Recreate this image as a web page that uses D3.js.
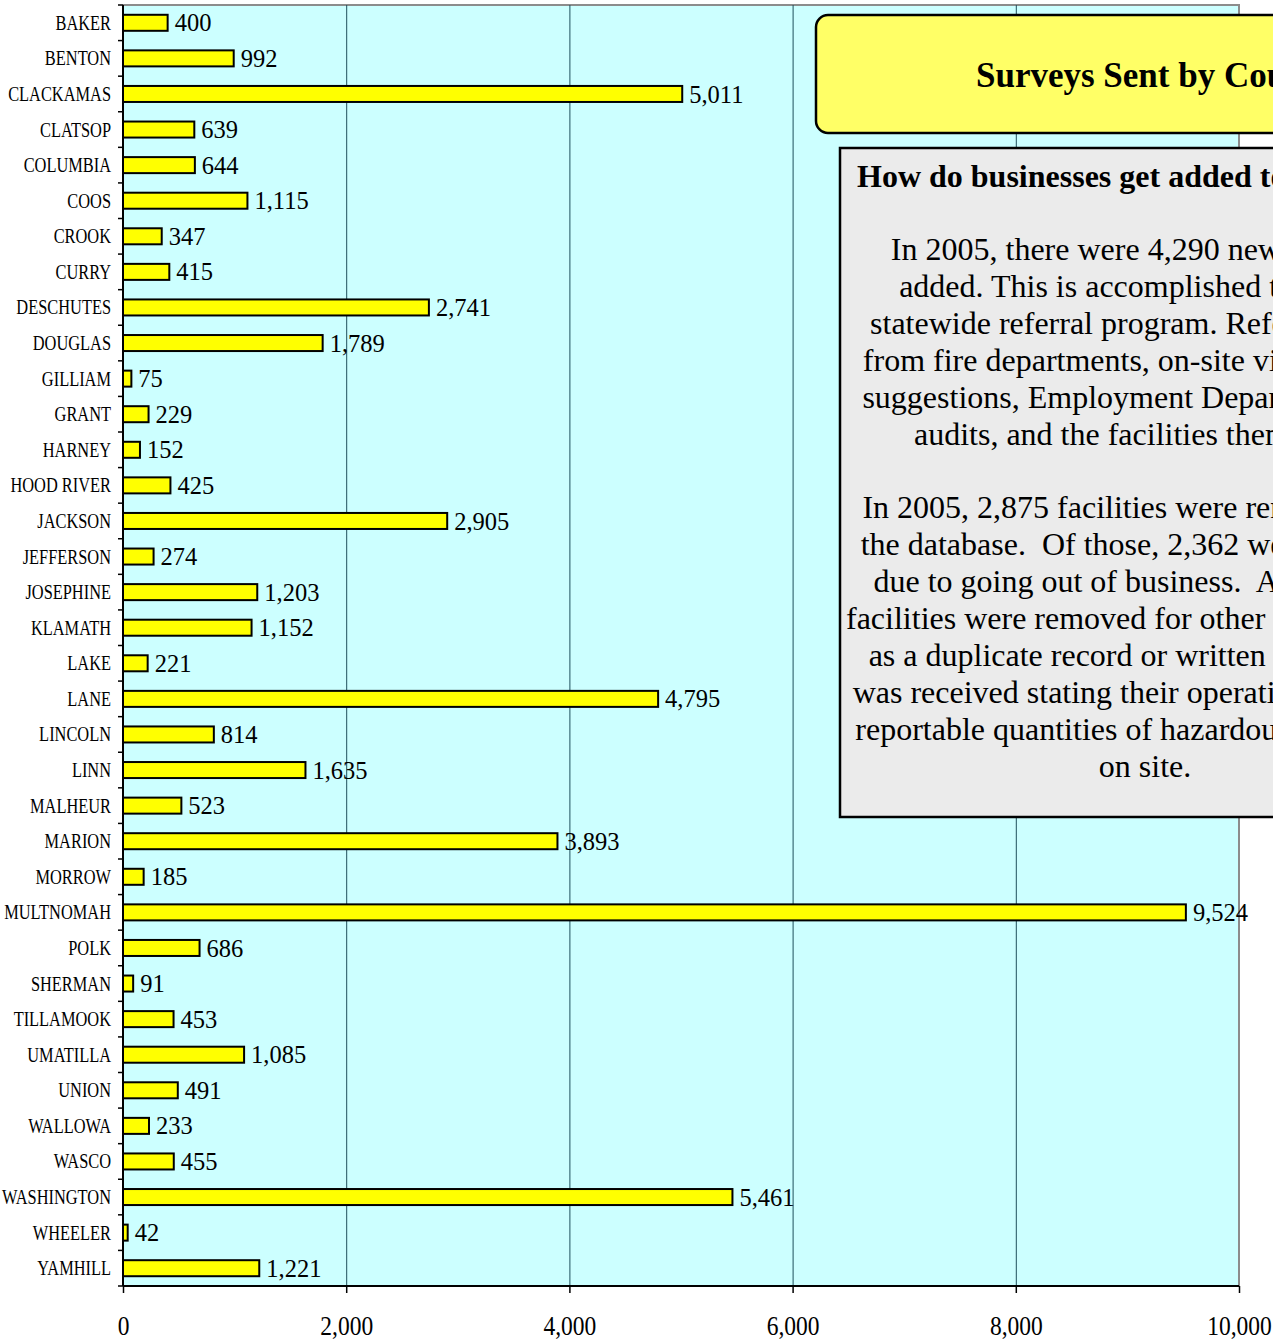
<!DOCTYPE html>
<html>
<head>
<meta charset="utf-8">
<script src="https://cdn.jsdelivr.net/npm/d3@7"></script>
<style>
  body { margin: 0; background: #fff; }
  svg text { font-family: "Liberation Serif", "Times New Roman", serif; fill: #000; }
</style>
</head>
<body>
<div id="chart"></div>
<script>
// Surveys sent by county (horizontal bar chart with side notes)

const counties = ["BAKER", "BENTON", "CLACKAMAS", "CLATSOP", "COLUMBIA", "COOS", "CROOK", "CURRY",
    "DESCHUTES", "DOUGLAS", "GILLIAM", "GRANT", "HARNEY", "HOOD RIVER", "JACKSON", "JEFFERSON",
    "JOSEPHINE", "KLAMATH", "LAKE", "LANE", "LINCOLN", "LINN", "MALHEUR", "MARION", "MORROW",
    "MULTNOMAH", "POLK", "SHERMAN", "TILLAMOOK", "UMATILLA", "UNION", "WALLOWA", "WASCO",
    "WASHINGTON", "WHEELER", "YAMHILL"];

const surveys = [400, 992, 5011, 639, 644, 1115, 347, 415, 2741, 1789, 75, 229, 152, 425, 2905, 274,
    1203, 1152, 221, 4795, 814, 1635, 523, 3893, 185, 9524, 686, 91, 453, 1085, 491, 233, 455,
    5461, 42, 1221];

const xTicks = [0, 2000, 4000, 6000, 8000, 10000];

const titleText = "Surveys Sent by County";
const noteHeading = "How do businesses get added to the database?";
const noteLines = [
    "In 2005, there were 4,290 new facilities",
    "added. This is accomplished through a",
    "statewide referral program. Referrals come",
    "from fire departments, on-site visits, agency",
    "suggestions, Employment Department wage",
    "audits, and the facilities themselves.",
    "",
    "In 2005, 2,875 facilities were removed from",
    "the database.  Of those, 2,362 were removed",
    "due to going out of business.  Another 513",
    "facilities were removed for other reasons, such",
    "as a duplicate record or written notification",
    "was received stating their operation no longer",
    "reportable quantities of hazardous substances",
    "on site."
];

const W = 1273, H = 1340;
const plot = { left: 123, right: 1239, top: 5, bottom: 1286 };

const svg = d3.select("#chart").append("svg")
    .attr("width", W)
    .attr("height", H);

const data = counties.map((c, i) => ({ county: c, value: surveys[i] }));

// Scales
const x = d3.scaleLinear()
    .domain([0, 10000])
    .range([plot.left, plot.right]);

const y = d3.scaleBand()
    .domain(counties)
    .range([plot.top, plot.bottom])
    .paddingInner(0.55)
    .paddingOuter(0.275);

// Plot background + gray frame on top/right
svg.append("rect")
    .attr("x", plot.left).attr("y", plot.top)
    .attr("width", plot.right - plot.left)
    .attr("height", plot.bottom - plot.top)
    .attr("fill", "#ccffff");

svg.append("path")
    .attr("d", `M${plot.left},${plot.top}H${plot.right}V${plot.bottom}`)
    .attr("fill", "none")
    .attr("stroke", "#8c8c8c")
    .attr("stroke-width", 2);

// Grid lines
svg.append("g")
    .attr("transform", `translate(0,${plot.bottom})`)
    .call(d3.axisBottom(x)
        .tickValues(xTicks.slice(1, -1))
        .tickSize(-(plot.bottom - plot.top))
        .tickFormat(""))
    .call(g => g.select(".domain").remove())
    .call(g => g.selectAll("line").attr("stroke", "#1f4f5c").attr("stroke-width", 1));

// Bars
svg.append("g")
    .selectAll("rect")
    .data(data)
    .join("rect")
    .attr("x", x(0))
    .attr("y", d => y(d.county))
    .attr("width", d => x(d.value) - x(0))
    .attr("height", y.bandwidth())
    .attr("fill", "#ffff00")
    .attr("stroke", "#000")
    .attr("stroke-width", 2);

// Value labels
svg.append("g")
    .selectAll("text")
    .data(data)
    .join("text")
    .attr("x", d => x(d.value) + 7)
    .attr("y", d => y(d.county) + y.bandwidth() / 2)
    .attr("dy", "0.35em")
    .attr("font-size", 24.5)
    .text(d => d3.format(",")(d.value));

// Left axis: line, ticks between categories, condensed labels
const gap = (y.step() - y.bandwidth()) / 2;
const bounds = counties.map(c => y(c) - gap).concat([plot.bottom]);

svg.append("line")
    .attr("x1", plot.left).attr("x2", plot.left)
    .attr("y1", plot.top).attr("y2", plot.bottom)
    .attr("stroke", "#000").attr("stroke-width", 2);

svg.append("g")
    .selectAll("line")
    .data(bounds)
    .join("line")
    .attr("x1", plot.left - 5).attr("x2", plot.left)
    .attr("y1", d => d).attr("y2", d => d)
    .attr("stroke", "#000").attr("stroke-width", 1.5);

svg.append("g")
    .selectAll("text")
    .data(counties)
    .join("text")
    .attr("transform", d => `translate(111,${y(d) + y.bandwidth() / 2}) scale(0.82,1)`)
    .attr("dy", "0.35em")
    .attr("text-anchor", "end")
    .attr("font-size", 20)
    .text(d => d);

// Bottom axis
const xAxis = svg.append("g")
    .attr("transform", `translate(0,${plot.bottom})`)
    .call(d3.axisBottom(x)
        .tickValues(xTicks)
        .tickSize(7)
        .tickPadding(23)
        .tickFormat(d3.format(",")));

xAxis.select(".domain")
    .attr("d", `M${plot.left},0H${plot.right}`)
    .attr("stroke", "#000").attr("stroke-width", 2);
xAxis.selectAll(".tick line").attr("stroke", "#000").attr("stroke-width", 1.5);
xAxis.selectAll(".tick text")
    .attr("font-family", "Liberation Serif, Times New Roman, serif")
    .attr("font-size", 27)
    .attr("transform", "scale(0.87,1)")
    .attr("fill", "#000");

// Title box
svg.append("rect")
    .attr("x", 816).attr("y", 15)
    .attr("width", 720).attr("height", 118)
    .attr("rx", 12)
    .attr("fill", "#ffff66")
    .attr("stroke", "#000")
    .attr("stroke-width", 2.5);

svg.append("text")
    .attr("x", 976).attr("y", 87)
    .attr("font-size", 35)
    .attr("font-weight", "bold")
    .text(titleText);

// Note box
svg.append("rect")
    .attr("x", 840).attr("y", 148)
    .attr("width", 620).attr("height", 669)
    .attr("fill", "#ebebeb")
    .attr("stroke", "#000")
    .attr("stroke-width", 2.5);

svg.append("text")
    .attr("x", 857).attr("y", 187)
    .attr("font-size", 32)
    .attr("font-weight", "bold")
    .text(noteHeading);

svg.append("g")
    .selectAll("text")
    .data(noteLines)
    .join("text")
    .attr("x", 1145)
    .attr("y", (d, i) => 260 + i * 36.9)
    .attr("text-anchor", "middle")
    .attr("font-size", 32)
    .style("white-space", "pre")
    .text(d => d);
</script>
</body>
</html>
